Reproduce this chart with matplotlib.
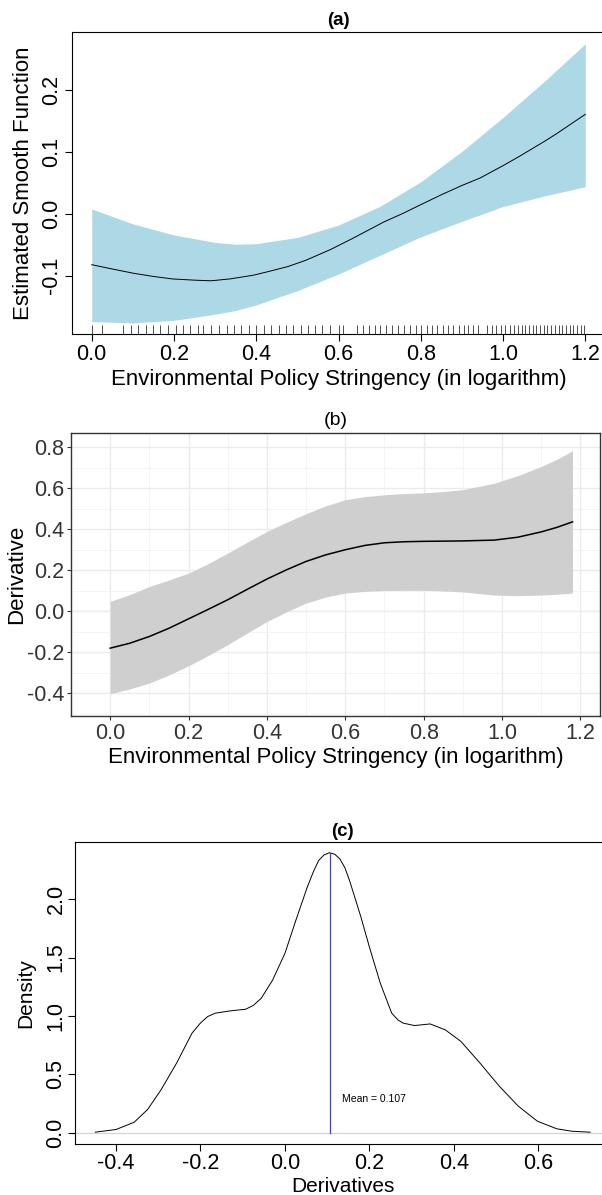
import numpy as np
import matplotlib
matplotlib.use('Agg')
import matplotlib.pyplot as plt

plt.rcParams['font.family'] = ['Liberation Sans', 'DejaVu Sans']

# ---- panel (a): estimated smooth function with confidence band
a_x = [0.0, 0.05, 0.103, 0.15, 0.196, 0.25, 0.29, 0.336, 0.393, 0.43, 0.477,
       0.52, 0.579, 0.63, 0.673, 0.71, 0.757, 0.8, 0.85, 0.9, 0.944, 1.0,
       1.037, 1.1, 1.131, 1.2]
a_fit = [-0.082, -0.089, -0.096, -0.101, -0.105, -0.107, -0.108, -0.105,
         -0.099, -0.093, -0.085, -0.075, -0.058, -0.041, -0.026, -0.013,
         0.001, 0.015, 0.031, 0.046, 0.058, 0.078, 0.092, 0.117, 0.13, 0.161]
a_band_x = [0.0, 0.1, 0.2, 0.3, 0.35, 0.4, 0.5, 0.6, 0.7, 0.8, 0.9, 1.0,
            1.1, 1.2]
a_upper = [0.008, -0.016, -0.034, -0.046, -0.049, -0.048, -0.038, -0.018,
           0.012, 0.052, 0.101, 0.156, 0.214, 0.275]
a_lower = [-0.174, -0.176, -0.172, -0.162, -0.156, -0.147, -0.124, -0.097,
           -0.067, -0.037, -0.012, 0.012, 0.029, 0.044]
a_rug = [0.0, 0.025, 0.076, 0.095, 0.112, 0.131, 0.149, 0.167, 0.185, 0.204,
         0.222, 0.240, 0.258, 0.271, 0.291, 0.310, 0.328, 0.346, 0.364, 0.383,
         0.399, 0.418, 0.436, 0.455, 0.472, 0.490, 0.508, 0.526, 0.543, 0.561,
         0.579, 0.600, 0.611, 0.644, 0.660, 0.675, 0.688, 0.702, 0.716, 0.731,
         0.745, 0.759, 0.774, 0.788, 0.800, 0.815, 0.827, 0.840, 0.853, 0.867,
         0.879, 0.894, 0.905, 0.916, 0.927, 0.938, 0.962, 0.973, 0.984, 0.995,
         1.005, 1.018, 1.027, 1.036, 1.045, 1.054, 1.063, 1.072, 1.081, 1.090,
         1.099, 1.108, 1.117, 1.126, 1.135, 1.144, 1.153, 1.162, 1.171, 1.180,
         1.189, 1.198]

# ---- panel (b): derivative with confidence band
b_x = [0.0, 0.05, 0.1, 0.15, 0.2, 0.25, 0.3, 0.35, 0.4, 0.45, 0.5, 0.55,
       0.6, 0.65, 0.7, 0.75, 0.8, 0.85, 0.9, 0.98, 1.04, 1.1, 1.14, 1.18]
b_fit = [-0.179, -0.155, -0.122, -0.082, -0.036, 0.010, 0.057, 0.108, 0.158,
         0.203, 0.244, 0.276, 0.301, 0.322, 0.335, 0.340, 0.342, 0.343, 0.344,
         0.348, 0.362, 0.388, 0.410, 0.437]
b_upper = [0.049, 0.082, 0.122, 0.153, 0.187, 0.233, 0.285, 0.338, 0.390,
           0.435, 0.477, 0.515, 0.545, 0.560, 0.569, 0.575, 0.578, 0.585,
           0.594, 0.625, 0.662, 0.707, 0.742, 0.784]
b_lower = [-0.401, -0.378, -0.349, -0.310, -0.265, -0.215, -0.162, -0.105,
           -0.049, -0.002, 0.041, 0.070, 0.090, 0.098, 0.102, 0.103, 0.103,
           0.100, 0.095, 0.080, 0.077, 0.080, 0.084, 0.090]

# ---- panel (c): density of derivatives
c_x = [-0.449, -0.4, -0.357, -0.325, -0.293, -0.256, -0.22, -0.2, -0.183,
       -0.165, -0.129, -0.093, -0.075, -0.056, -0.029, 0.0, 0.026, 0.053,
       0.068, 0.08, 0.093, 0.1056, 0.118, 0.13, 0.142, 0.153, 0.18, 0.2,
       0.226, 0.253, 0.268, 0.28, 0.307, 0.344, 0.38, 0.417, 0.462, 0.508,
       0.553, 0.598, 0.644, 0.68, 0.723]
c_dens = [0.005, 0.028, 0.09, 0.2, 0.37, 0.6, 0.853, 0.94, 0.995, 1.024,
          1.044, 1.058, 1.09, 1.152, 1.308, 1.536, 1.82, 2.104, 2.24, 2.332,
          2.38, 2.398, 2.385, 2.346, 2.27, 2.161, 1.848, 1.592, 1.28, 1.024,
          0.965, 0.939, 0.918, 0.932, 0.881, 0.782, 0.597, 0.398, 0.227,
          0.099, 0.034, 0.013, 0.005]
c_mean = 0.107
c_mean_dens = 2.397

xlab = 'Environmental Policy Stringency (in logarithm)'

fig = plt.figure(figsize=(6.02, 11.95), dpi=100)

# (a) base-R look
ax1 = fig.add_axes([0.1196, 0.7205, 0.8854, 0.2527])
ax1.fill_between(a_band_x, a_lower, a_upper, color='#ADD8E6', lw=0)
ax1.plot(a_x, a_fit, color='black', lw=0.7)
ax1.vlines(a_rug, 0, 0.03, transform=ax1.get_xaxis_transform(),
           color='#333333', lw=0.6)
ax1.set_xlim(-0.048, 1.248)
ax1.set_ylim(-0.194, 0.294)
ax1.set_xticks([0, 0.2, 0.4, 0.6, 0.8, 1.0, 1.2])
ax1.set_yticks([-0.1, 0.0, 0.1, 0.2])
ax1.xaxis.set_major_formatter(plt.FormatStrFormatter('%.1f'))
ax1.yaxis.set_major_formatter(plt.FormatStrFormatter('%.1f'))
ax1.tick_params(labelsize=15.5, length=5, width=0.8, pad=2)
for lab in ax1.get_yticklabels():
    lab.set_rotation(90)
    lab.set_va('center')
ax1.set_xlabel(xlab, fontsize=16)
ax1.set_ylabel('Estimated Smooth Function', fontsize=16)
ax1.xaxis.set_label_coords(0.5, -0.115)
ax1.yaxis.set_label_coords(-0.072, 0.5)
ax1.set_title('(a)', fontsize=13.5, fontweight='bold', pad=5)

# (b) ggplot look
ax2 = fig.add_axes([0.1179, 0.4008, 0.8787, 0.2368])
ax2.set_xlim(-0.061, 1.25)
ax2.set_ylim(-0.51, 0.87)
ax2.set_xticks([0, 0.2, 0.4, 0.6, 0.8, 1.0, 1.2])
ax2.set_xticks(np.arange(-0.1, 1.25, 0.2), minor=True)
ax2.set_yticks([-0.4, -0.2, 0.0, 0.2, 0.4, 0.6, 0.8])
ax2.set_yticks(np.arange(-0.5, 0.9, 0.2), minor=True)
ax2.grid(which='major', color='#EBEBEB', lw=1.0)
ax2.grid(which='minor', color='#F2F2F2', lw=0.6)
ax2.set_axisbelow(True)
ax2.fill_between(b_x, b_lower, b_upper, color='#CFCFCF', lw=0)
ax2.plot(b_x, b_fit, color='black', lw=1.1)
ax2.xaxis.set_major_formatter(plt.FormatStrFormatter('%.1f'))
ax2.yaxis.set_major_formatter(plt.FormatStrFormatter('%.1f'))
ax2.tick_params(which='major', labelsize=15.5, length=3, width=0.8,
                color='#333333', labelcolor='#333333', pad=2)
ax2.tick_params(which='minor', length=0)
for s in ax2.spines.values():
    s.set_color('#333333')
    s.set_linewidth(1.0)
ax2.set_xlabel(xlab, fontsize=16)
ax2.set_ylabel('Derivative', fontsize=16)
ax2.xaxis.set_label_coords(0.5, -0.11)
ax2.yaxis.set_label_coords(-0.082, 0.5)
ax2.set_title('(b)', fontsize=14, pad=6)

# (c) base-R density
ax3 = fig.add_axes([0.1254, 0.0427, 0.8879, 0.2531])
ax3.axhline(0, color='#D3D3D3', lw=0.9)
ax3.plot(c_x, c_dens, color='black', lw=0.7)
ax3.plot([c_mean, c_mean], [0, c_mean_dens], color='#3a3aff', lw=0.9)
ax3.text(0.135, 0.29, 'Mean = 0.107', fontsize=7.5, va='center')
ax3.set_xlim(-0.496, 0.77)
ax3.set_ylim(-0.096, 2.494)
ax3.set_xticks([-0.4, -0.2, 0.0, 0.2, 0.4, 0.6])
ax3.set_yticks([0.0, 0.5, 1.0, 1.5, 2.0])
ax3.xaxis.set_major_formatter(plt.FormatStrFormatter('%.1f'))
ax3.yaxis.set_major_formatter(plt.FormatStrFormatter('%.1f'))
ax3.tick_params(labelsize=15.5, length=5, width=0.8, pad=1.5)
for lab in ax3.get_yticklabels():
    lab.set_rotation(90)
    lab.set_va('center')
ax3.set_xlabel('Derivatives', fontsize=15)
ax3.set_ylabel('Density', fontsize=15)
ax3.xaxis.set_label_coords(0.5, -0.11)
ax3.yaxis.set_label_coords(-0.075, 0.5)
ax3.set_title('(c)', fontsize=13.5, fontweight='bold', pad=4)

fig.savefig('out.png', dpi=100)
